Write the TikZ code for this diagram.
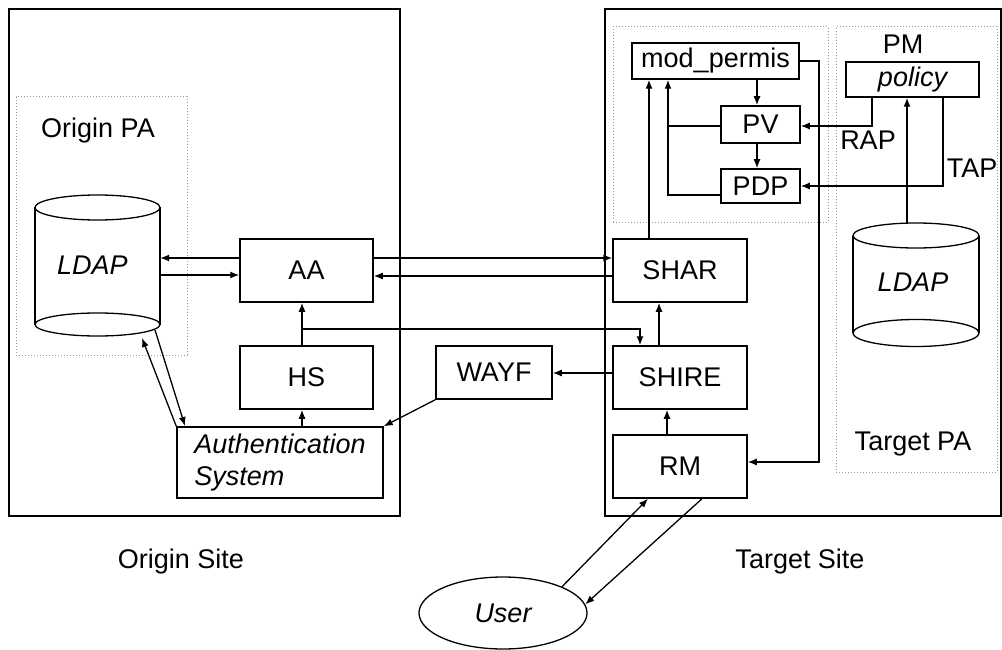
\documentclass[tikz,border=0pt]{standalone}
\usepackage{fontspec}
\setmainfont{Liberation Sans}
\usetikzlibrary{arrows.meta,shapes.geometric}
\newcommand\dfont{\fontsize{27}{32}\selectfont}
\begin{document}
\begin{tikzpicture}[x=1pt,y=-1pt,
  box/.style={draw, line width=1.5pt, inner sep=0pt, font=\dfont},
  txt/.style={inner sep=0pt, font=\dfont},
  arr/.style={-{Latex[length=9pt,width=7pt]}, line width=1.3pt},
  ln/.style={line width=1.3pt},
  pa/.style={draw=gray!80, dotted, line width=1pt},
  site/.style={draw, line width=1.7pt, inner sep=0pt}]
\useasboundingbox (0,0) rectangle (1002,650);
% site boxes
\node[site, minimum width=391pt, minimum height=507pt] (origin) at (204.5,262.5) {};
\node[site, minimum width=396pt, minimum height=507pt] (target) at (803,262.5) {};
% dotted areas
\node[pa, minimum width=171pt, minimum height=258pt, inner sep=0pt] (originpa) at (101.5,226) {};
\node[pa, minimum width=215pt, minimum height=195pt, inner sep=0pt] (permisarea) at (720.5,124.5) {};
\node[pa, minimum width=161pt, minimum height=445pt, inner sep=0pt] (targetpa) at (916.5,249.5) {};
% labels
\node[txt] (originpalbl) at (98,131) {Origin PA};
\node[txt] (targetpalbl) at (913,444) {Target PA};
\node[txt] (pmlbl) at (903,44) {PM};
\node[txt] (raplbl) at (868,140) {RAP};
\node[txt] (taplbl) at (972,168) {TAP};
\node[txt] (originsitelbl) at (181,562) {Origin Site};
\node[txt] (targetsitelbl) at (800,562) {Target Site};
% LDAP cylinders
\node[inner sep=0pt, minimum width=125pt, minimum height=140pt] (ldapO) at (97.5,265) {};
\draw[ln] (97.5,207.5) ellipse [x radius=62.5pt, y radius=12.5pt];
\draw[ln] (97.5,324.5) ellipse [x radius=62.5pt, y radius=11.5pt];
\draw[ln] (35,207.5) -- (35,324.5) (160,207.5) -- (160,324.5);
\node[txt, font=\dfont\itshape] (ldapOtxt) at (92.5,265) {LDAP};
\node[inner sep=0pt, minimum width=126pt, minimum height=124pt] (ldapT) at (916,285) {};
\draw[ln] (916,235.5) ellipse [x radius=63pt, y radius=12.5pt];
\draw[ln] (916,333) ellipse [x radius=63pt, y radius=13.5pt];
\draw[ln] (853,235.5) -- (853,333) (979,235.5) -- (979,333);
\node[txt, font=\dfont\itshape] (ldapTtxt) at (913,282) {LDAP};
% boxes
\node[box, minimum width=133pt, minimum height=63pt] (AA) at (306.5,270.5) {AA};
\node[box, minimum width=133pt, minimum height=63pt] (HS) at (306.5,377.5) {HS};
\node[box, minimum width=116pt, minimum height=53pt] (WAYF) at (494,372.5) {WAYF};
\node[box, minimum width=206pt, minimum height=71pt, align=left, font=\dfont\itshape] (Auth) at (280,462.5) {Authentication\\System};
\node[box, minimum width=134pt, minimum height=63pt] (SHAR) at (680,270.5) {SHAR};
\node[box, minimum width=134pt, minimum height=63pt] (SHIRE) at (680,377.5) {SHIRE};
\node[box, minimum width=134pt, minimum height=63pt] (RM) at (680,466.5) {RM};
\node[box, minimum width=167pt, minimum height=36pt] (mod) at (715.5,61) {mod\_permis};
\node[box, minimum width=79pt, minimum height=37pt] (PV) at (760.5,124.5) {PV};
\node[box, minimum width=79pt, minimum height=34pt] (PDP) at (760.5,186) {PDP};
\node[box, minimum width=133pt, minimum height=35pt, font=\dfont\itshape] (policy) at (912.5,79.5) {policy};
\node[draw, ellipse, line width=1.3pt, minimum width=168pt, minimum height=72pt, inner sep=0pt, font=\dfont\itshape] (User) at (503,613) {User};
% connectors
\draw[arr] (AA.west |- 0,258) -- (ldapO.east |- 0,258);
\draw[arr] (ldapO.east |- 0,275) -- (AA.west |- 0,275);
\draw[arr] (AA.east |- 0,258) -- (SHAR.west |- 0,258);
\draw[arr] (SHAR.west |- 0,276) -- (AA.east |- 0,276);
\draw[arr] (HS.north -| 302,0) -- (AA.south -| 302,0);
\coordinate (j1) at (302,329);
\draw[arr] (j1) -| (SHIRE.north -| 640,0);
\draw[arr] (SHIRE.west |- 0,373) -- (WAYF.east |- 0,373);
\draw[arr] (WAYF.south west) -- (Auth.north east);
\draw[arr] (Auth.north -| 302,0) -- (HS.south -| 302,0);
\draw[arr] (Auth.north west) -- (142,338);
\draw[arr] (155,330) -- (185,426);
\draw[arr] (SHIRE.north -| 659,0) -- (SHAR.south -| 659,0);
\draw[arr] (RM.north -| 667,0) -- (SHIRE.south -| 667,0);
\draw[arr] (SHAR.north -| 649,0) -- (mod.south -| 649,0);
\draw[arr] (mod.south -| 757,0) -- (PV.north -| 757,0);
\draw[arr] (PV.south -| 757,0) -- (PDP.north -| 757,0);
\draw[arr] (PV.west |- 0,126) -| (mod.south -| 668,0);
\draw[ln] (PDP.west |- 0,195) -| (668,126);
\draw[arr] (mod.east |- 0,61) -| (819,300) |- (RM.east |- 0,462);
\draw[arr] (policy.south -| 872,0) |- (PV.east |- 0,126);
\draw[arr] (policy.south -| 943,0) |- (PDP.east |- 0,186);
\draw[arr] (ldapT.north -| 907,0) -- (policy.south -| 907,0);
\draw[arr] (User.24.5) -- (RM.south -| 648,0);
\draw[arr] (RM.south -| 702,0) -- (User.6.7);
\end{tikzpicture}
\end{document}
